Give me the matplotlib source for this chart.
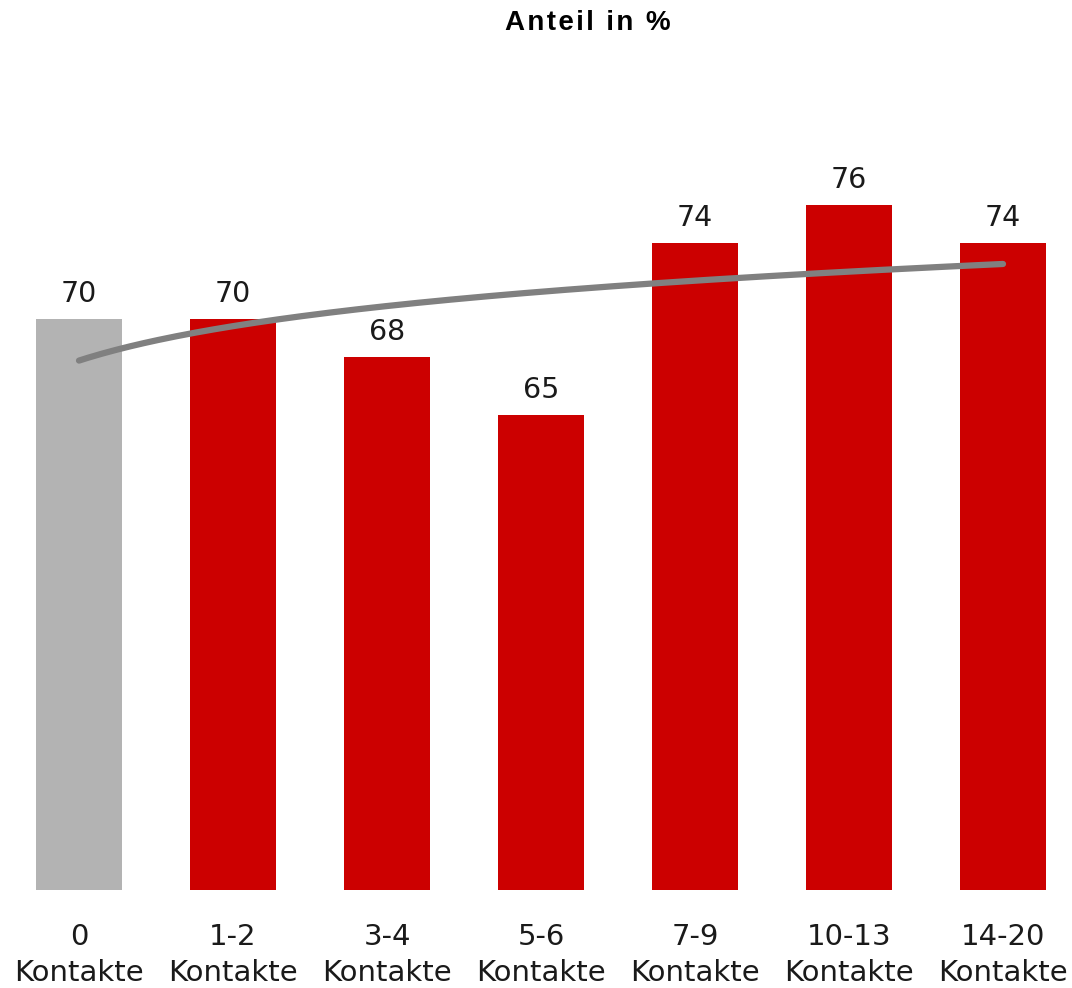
import numpy as np
import matplotlib.pyplot as plt

categories = ['0\nKontakte', '1-2\nKontakte', '3-4\nKontakte', '5-6\nKontakte',
              '7-9\nKontakte', '10-13\nKontakte', '14-20\nKontakte']
values = [70, 70, 68, 65, 74, 76, 74]
bar_colors = ['#B3B3B3', '#CC0000', '#CC0000', '#CC0000', '#CC0000', '#CC0000', '#CC0000']
title = 'Anteil in %'


def spaced(s):
    # the original title has a little letter spacing, hair spaces fake it
    return '\u200a'.join(s)


fig = plt.figure(figsize=(10.72, 9.88), dpi=100)
ax = fig.add_axes([0, 0.0992, 1, 0.80])

x = np.arange(len(values))
ax.bar(x, values, width=0.56, color=bar_colors, zorder=2)

# logarithmic trendline (like Excel)
b, a = np.polyfit(np.log(x + 1), values, 1)
xs = np.linspace(0, len(values) - 1, 200)
ax.plot(xs, a + b * np.log(xs + 1), color='#808080', lw=4.5, zorder=3,
        solid_capstyle='round')

for xi, v in zip(x, values):
    ax.annotate(str(v), (xi, v), xytext=(0, 8), textcoords='offset points',
                ha='center', va='bottom', fontsize=20.5, color='#1a1a1a',
                family='DejaVu Sans')

ax.set_xlim(-79 / 154, (1072 - 79) / 154)
ymin = 40.1
ax.set_ylim(ymin, ymin + 0.80 * 988 / 19.09)
ax.set_xticks(x)
ax.set_xticklabels(categories, fontsize=21, linespacing=1.34,
                   family='DejaVu Sans', color='#1a1a1a')
ax.tick_params(axis='x', length=0, pad=24)
ax.set_yticks([])
for s in ax.spines.values():
    s.set_visible(False)

fig.text(588 / 1072, 1 - 23 / 988, spaced(title), ha='center', va='center',
         fontsize=20, fontweight='bold', family=['Liberation Sans', 'DejaVu Sans'])

fig.savefig('out.png', dpi=100)
